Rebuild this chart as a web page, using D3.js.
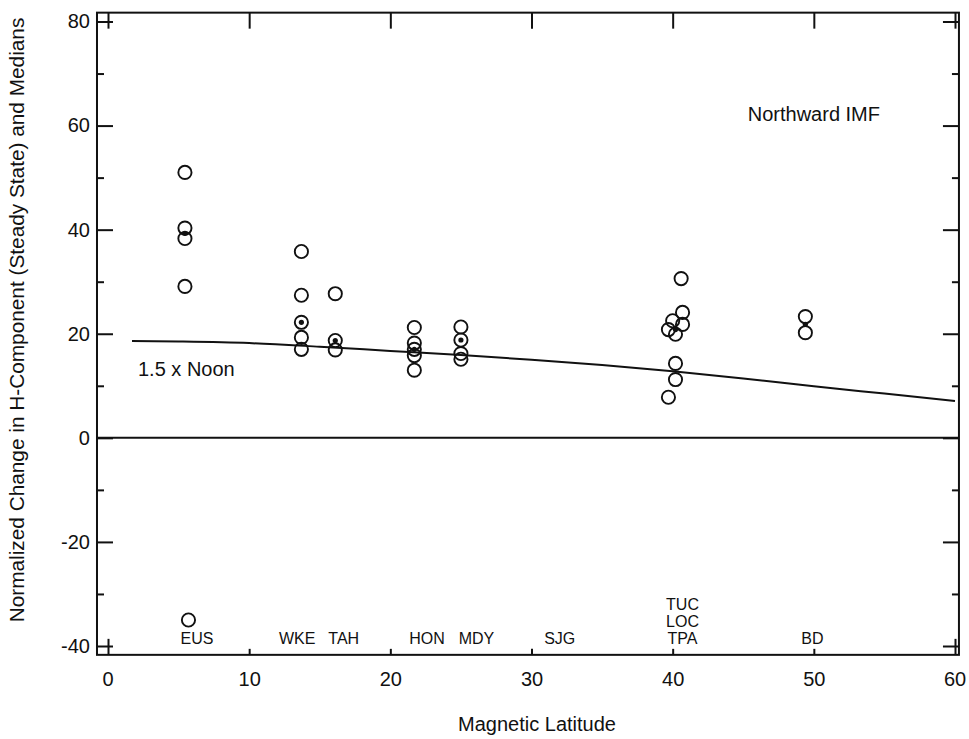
<!DOCTYPE html>
<html>
<head>
<meta charset="utf-8">
<script src="https://cdn.jsdelivr.net/npm/d3@7"></script>
<style>
  html, body { margin: 0; padding: 0; background: #fff; }
  svg { display: block; }
  text { font-family: "Liberation Sans", Arial, Helvetica, sans-serif; fill: #111; }
</style>
</head>
<body>
<svg id="chart" width="969" height="739"></svg>
<script>
// Observatory readings: magnetic latitude and normalized H change (individual events)
const eusLat = [5.45, 5.45, 5.45, 5.45, 5.7];
const eusVal = [51.0, 40.3, 38.3, 29.1, -35.0];
const wkeLat = [13.7, 13.7, 13.7, 13.7, 13.7];
const wkeVal = [35.8, 27.4, 22.2, 19.3, 17.0];
const tahLat = [16.1, 16.1, 16.1];
const tahVal = [27.7, 18.7, 16.9];
const honLat = [21.7, 21.7, 21.7, 21.7, 21.7];
const honVal = [21.2, 18.2, 17.0, 15.8, 13.0];
const mdyLat = [25.0, 25.0, 25.0, 25.0];
const mdyVal = [21.3, 18.8, 16.2, 15.1];
const tlcLat = [40.6, 40.7, 40.0, 40.7, 39.7, 40.2, 40.2, 40.2, 39.7];
const tlcVal = [30.6, 24.1, 22.5, 21.8, 20.8, 19.9, 14.3, 11.2, 7.8];
const bdLat  = [49.4, 49.4];
const bdVal  = [23.3, 20.2];

// Medians per station group
const medianLat = [5.45, 13.7, 16.1, 21.7, 25.0, 40.2, 49.4];
const medianVal = [39.3, 22.2, 18.7, 17.0, 18.8, 20.8, 21.8];

// 1.5 x Noon reference curve
const noonLat = [1.7, 5, 10, 15, 20, 25, 30, 35, 40, 45, 50, 55, 60];
const noonVal = [18.6, 18.5, 18.2, 17.5, 16.7, 15.9, 15.0, 14.0, 12.8, 11.4, 9.9, 8.5, 7.1];

// Station names along the bottom
const stationNames = ["EUS", "WKE", "TAH", "HON", "MDY", "SJG", "TUC\nLOC\nTPA", "BD"];
const stationLat   = [6.3, 13.4, 16.7, 22.6, 26.1, 32.0, 40.7, 49.9];

const xTicks = [0, 10, 20, 30, 40, 50, 60];
const yTicks = [-40, -20, 0, 20, 40, 60, 80];
const yMinor = [-30, -10, 10, 30, 50, 70];

const svg = d3.select("#chart");

const x = d3.scaleLinear().domain([0, 60]).range([108, 955]);
const y = d3.scaleLinear().domain([-40, 80]).range([646, 21.5]);

// frame slightly outside the data range
const fx0 = x(-0.78), fx1 = x(60.28), fy0 = y(81.7), fy1 = y(-41.7);

const g = svg.append("g");

g.append("rect")
  .attr("x", fx0).attr("y", fy0)
  .attr("width", fx1 - fx0).attr("height", fy1 - fy0)
  .attr("fill", "none").attr("stroke", "#111").attr("stroke-width", 2);

const plainFormat = d => String(d);

function tickAxis(axis, tr, ticks, size, labels) {
  const a = axis.tickValues(ticks).tickSizeInner(-size).tickSizeOuter(0).tickPadding(7)
    .tickFormat(labels ? plainFormat : "");
  const sel = g.append("g").attr("transform", tr).call(a);
  sel.select(".domain").remove();
  sel.selectAll(".tick line").attr("stroke", "#111").attr("stroke-width", 2);
  sel.selectAll("text").attr("font-size", 20).attr("fill", "#111")
     .attr("font-family", '"Liberation Sans", Arial, sans-serif');
  return sel;
}

// left
tickAxis(d3.axisLeft(y), `translate(${fx0},0)`, yTicks, 16, true);
tickAxis(d3.axisLeft(y), `translate(${fx0},0)`, yMinor, 7, false);
// right
tickAxis(d3.axisRight(y), `translate(${fx1},0)`, yTicks, 16, false);
tickAxis(d3.axisRight(y), `translate(${fx1},0)`, yMinor, 7, false);
// top
tickAxis(d3.axisTop(x), `translate(0,${fy0})`, xTicks, 16, false);
// bottom: short ticks inside, long ticks at the corners
const bottom = tickAxis(d3.axisBottom(x), `translate(0,${fy1})`, xTicks.slice(1, -1), 6, true);
tickAxis(d3.axisBottom(x), `translate(0,${fy1})`, [0, 60], 16, false);
g.append("g").attr("transform", `translate(0,${fy1})`)
  .selectAll("text").data([0, 60]).join("text")
  .attr("x", d => x(d)).attr("y", 31)
  .attr("text-anchor", "middle").attr("font-size", 20).text(plainFormat);
bottom.selectAll("text").attr("dy", null).attr("y", 31);

// zero line
g.append("line")
  .attr("x1", fx0).attr("x2", fx1)
  .attr("y1", y(0)).attr("y2", y(0))
  .attr("stroke", "#111").attr("stroke-width", 2);

// 1.5 x Noon curve
g.append("path")
  .datum(noonLat.map((d, i) => [d, noonVal[i]]))
  .attr("d", d3.line().x(d => x(d[0])).y(d => y(d[1])).curve(d3.curveMonotoneX))
  .attr("fill", "none").attr("stroke", "#111").attr("stroke-width", 2);

// event circles
const groups = [
  [eusLat, eusVal], [wkeLat, wkeVal], [tahLat, tahVal], [honLat, honVal],
  [mdyLat, mdyVal], [tlcLat, tlcVal], [bdLat, bdVal]
];
const pts = groups.flatMap(([la, va]) => la.map((d, i) => [d, va[i]]));
g.append("g").selectAll("circle").data(pts).join("circle")
  .attr("cx", d => x(d[0])).attr("cy", d => y(d[1])).attr("r", 6.6)
  .attr("fill", "none").attr("stroke", "#111").attr("stroke-width", 1.9);

// median dots
g.append("g").selectAll("circle").data(medianLat.map((d, i) => [d, medianVal[i]])).join("circle")
  .attr("cx", d => x(d[0])).attr("cy", d => y(d[1])).attr("r", 2.6)
  .attr("fill", "#111");

// station labels
const st = g.append("g");
stationNames.forEach((name, i) => {
  const lines = name.split("\n");
  lines.forEach((ln, j) => {
    st.append("text")
      .attr("x", x(stationLat[i]))
      .attr("y", y(-40) - 2 - (lines.length - 1 - j) * 17)
      .attr("text-anchor", "middle").attr("font-size", 16)
      .text(ln);
  });
});

// annotations
g.append("text").attr("x", 880).attr("y", 121).attr("text-anchor", "end")
  .attr("font-size", 20).text("Northward IMF");
g.append("text").attr("x", 138).attr("y", 376)
  .attr("font-size", 20).text("1.5 x Noon");

// axis titles
g.append("text").attr("x", 537).attr("y", 731).attr("text-anchor", "middle")
  .attr("font-size", 20).text("Magnetic Latitude");
g.append("text")
  .attr("transform", "translate(24,320) rotate(-90)")
  .attr("text-anchor", "middle").attr("font-size", 20.8)
  .text("Normalized Change in H-Component (Steady State) and Medians");
</script>
</body>
</html>
